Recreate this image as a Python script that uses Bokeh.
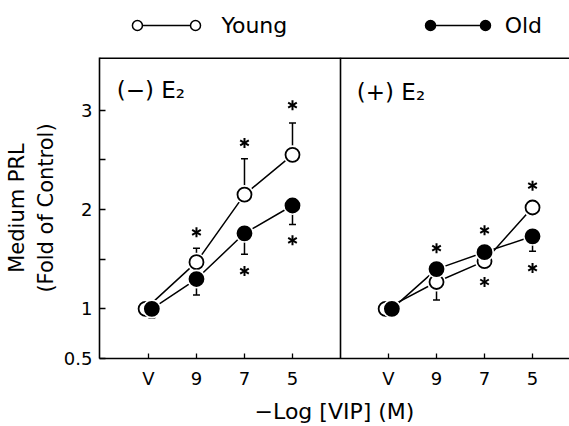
import math
from bokeh.plotting import figure
from bokeh.models import Range1d, FixedTicker, Label, Span
from bokeh.layouts import column
from bokeh.embed import file_html
from bokeh.resources import INLINE
from bokeh.core.properties import value

nan = float("nan")

# ---------------- data ----------------
dose_labels = ["V", "9", "7", "5"]
dose_index = [0, 1, 2, 3]
panel_offsets = [0, 5]
panel_titles = ["(\u2212) E\u2082", "(+) E\u2082"]

young_minus = [1.00, 1.47, 2.15, 2.55]
young_minus_err = [0.02, 0.14, 0.36, 0.32]
young_minus_dir = [1, 1, 1, 1]
old_minus = [1.00, 1.30, 1.76, 2.04]
old_minus_err = [0.09, 0.16, 0.21, 0.19]
old_minus_dir = [-1, -1, -1, -1]

young_plus = [1.00, 1.27, 1.48, 2.02]
young_plus_err = [0.02, 0.18, 0.03, 0.05]
young_plus_dir = [1, -1, -1, 1]
old_plus = [1.00, 1.40, 1.57, 1.73]
old_plus_err = [0.02, 0.05, 0.05, 0.15]
old_plus_dir = [-1, 1, 1, -1]

young_minus_star = [nan, 1.77, 2.67, 3.05]
old_minus_star = [nan, nan, 1.38, 1.69]
young_plus_star = [nan, nan, 1.27, 2.24]
old_plus_star = [nan, 1.61, 1.79, 1.41]

y_ticks = [0.5, 1, 2, 3]
y_minor = [1.5, 2.5]

series_names = ["Young", "Old"]
y_label = "Medium PRL\n(Fold of Control)"
x_label = "\u2212Log [VIP] (M)"

FONT = "DejaVu Sans"
W = 569
LEG_H = 57
MAIN_H = 369
BL = 99

x_range = Range1d(-1.02, 8.77)
y_range = Range1d(0.5, 3.53)

# ---------------- legend strip ----------------
leg = figure(width=W, height=LEG_H, x_range=x_range, y_range=Range1d(0, LEG_H),
             x_axis_location=None, y_axis_location=None, toolbar_location=None,
             output_backend="svg", min_border_left=BL, min_border_right=0,
             min_border_top=0, min_border_bottom=0)
leg.grid.visible = False
leg.outline_line_color = None
LY = 32
for (c0, c1, tx), name, fill in zip([(-0.23, 0.98, 1.52), (5.875, 7.02, 7.42)], series_names,
                                    ["white", "black"]):
    leg.line([c0, c1], [LY, LY], line_color="black", line_width=1.5)
    leg.scatter([c0, c1], [LY, LY], size=10, fill_color=fill, line_color="black", line_width=1.5)
    leg.text([tx], [LY], text=[name], text_font=value(FONT), text_font_size="22px",
             text_baseline="middle", text_align="left", text_color="black")

# ---------------- main plot ----------------
p = figure(width=W, height=MAIN_H, x_range=x_range, y_range=y_range,
           toolbar_location=None, output_backend="svg",
           min_border_left=BL, min_border_right=0, min_border_top=0, min_border_bottom=66)
p.grid.visible = False
p.outline_line_color = None
p.background_fill_color = "white"

p.xaxis.ticker = FixedTicker(ticks=[o + d for o in panel_offsets for d in dose_index])
p.xaxis.major_label_overrides = {o + d: lab for o in panel_offsets for d, lab in zip(dose_index, dose_labels)}
p.yaxis.ticker = FixedTicker(ticks=y_ticks, minor_ticks=y_minor)
p.yaxis.major_label_overrides = {t: ("%g" % t) for t in y_ticks}
p.xaxis.axis_label = x_label
p.yaxis.axis_label = y_label

for ax in (p.xaxis, p.yaxis):
    ax.axis_line_color = "black"
    ax.axis_line_width = 1.6
    ax.major_tick_in = 6
    ax.major_tick_out = 0
    ax.minor_tick_in = 6
    ax.minor_tick_out = 0
    ax.major_tick_line_width = 1.3
    ax.minor_tick_line_width = 1.3
    ax.major_label_text_font = FONT
    ax.major_label_text_font_size = "18px"
    ax.major_label_text_color = "black"
    ax.axis_label_text_font = FONT
    ax.axis_label_text_font_size = "21px"
    ax.axis_label_text_font_style = "normal"
    ax.axis_label_text_color = "black"
p.xaxis.axis_label_text_font_size = "22px"
p.xaxis.minor_tick_in = 0
p.xaxis.major_tick_in = 5
p.xaxis.major_label_standoff = 9
p.xaxis.axis_label_standoff = 7
p.yaxis.major_label_standoff = 7
p.yaxis.axis_label_standoff = 3

p.add_layout(Span(location=3.53, dimension="width", line_color="black", line_width=3))
p.add_layout(Span(location=4, dimension="height", line_color="black", line_width=1.6))

for off, title, ty in zip(panel_offsets, panel_titles, [3.20, 3.18]):
    p.add_layout(Label(x=off - 0.66, y=ty, text=title, text_font=FONT, text_font_size="23px",
                       text_baseline="middle", text_color="black"))


def star(xs, ys):
    for ang in (math.pi / 2, math.pi / 6, 5 * math.pi / 6):
        p.scatter(xs, ys, marker="dash", size=10, angle=ang, line_color="black", line_width=2)


panels = [
    (0, young_minus, young_minus_err, young_minus_dir, young_minus_star,
        old_minus, old_minus_err, old_minus_dir, old_minus_star),
    (5, young_plus, young_plus_err, young_plus_dir, young_plus_star,
        old_plus, old_plus_err, old_plus_dir, old_plus_star),
]

for off, yv, ye, yd, ys, ov, oe, od, os_ in panels:
    xy = [off + d + (-0.06 if d == 0 else 0) for d in dose_index]
    xo = [off + d + (0.07 if d == 0 else 0) for d in dose_index]
    p.line(xy, yv, line_color="black", line_width=1.5)
    p.line(xo, ov, line_color="black", line_width=1.5)
    for xs, vals, errs, dirs in ((xy, yv, ye, yd), (xo, ov, oe, od)):
        ends = [v + d * e for v, e, d in zip(vals, errs, dirs)]
        p.segment(x0=xs, y0=vals, x1=xs, y1=ends, line_color="black", line_width=1.5)
        p.scatter(xs, ends, marker="dash", size=7, line_color="black", line_width=1.5)
    for xs, st in ((xy, ys), (xo, os_)):
        sx = [x for x, s in zip(xs, st) if not math.isnan(s)]
        sy = [s for s in st if not math.isnan(s)]
        star(sx, sy)
    p.scatter(xy, yv, size=19, fill_color="white", line_color=None)
    p.scatter(xy, yv, size=14, fill_color="white", line_color="black", line_width=1.8)
    p.scatter(xo, ov, size=19, fill_color="white", line_color=None)
    p.scatter(xo, ov, size=14, fill_color="black", line_color="black", line_width=1.8)

layout = column(leg, p, spacing=0)
open("out.html", "w").write(file_html(layout, INLINE))
